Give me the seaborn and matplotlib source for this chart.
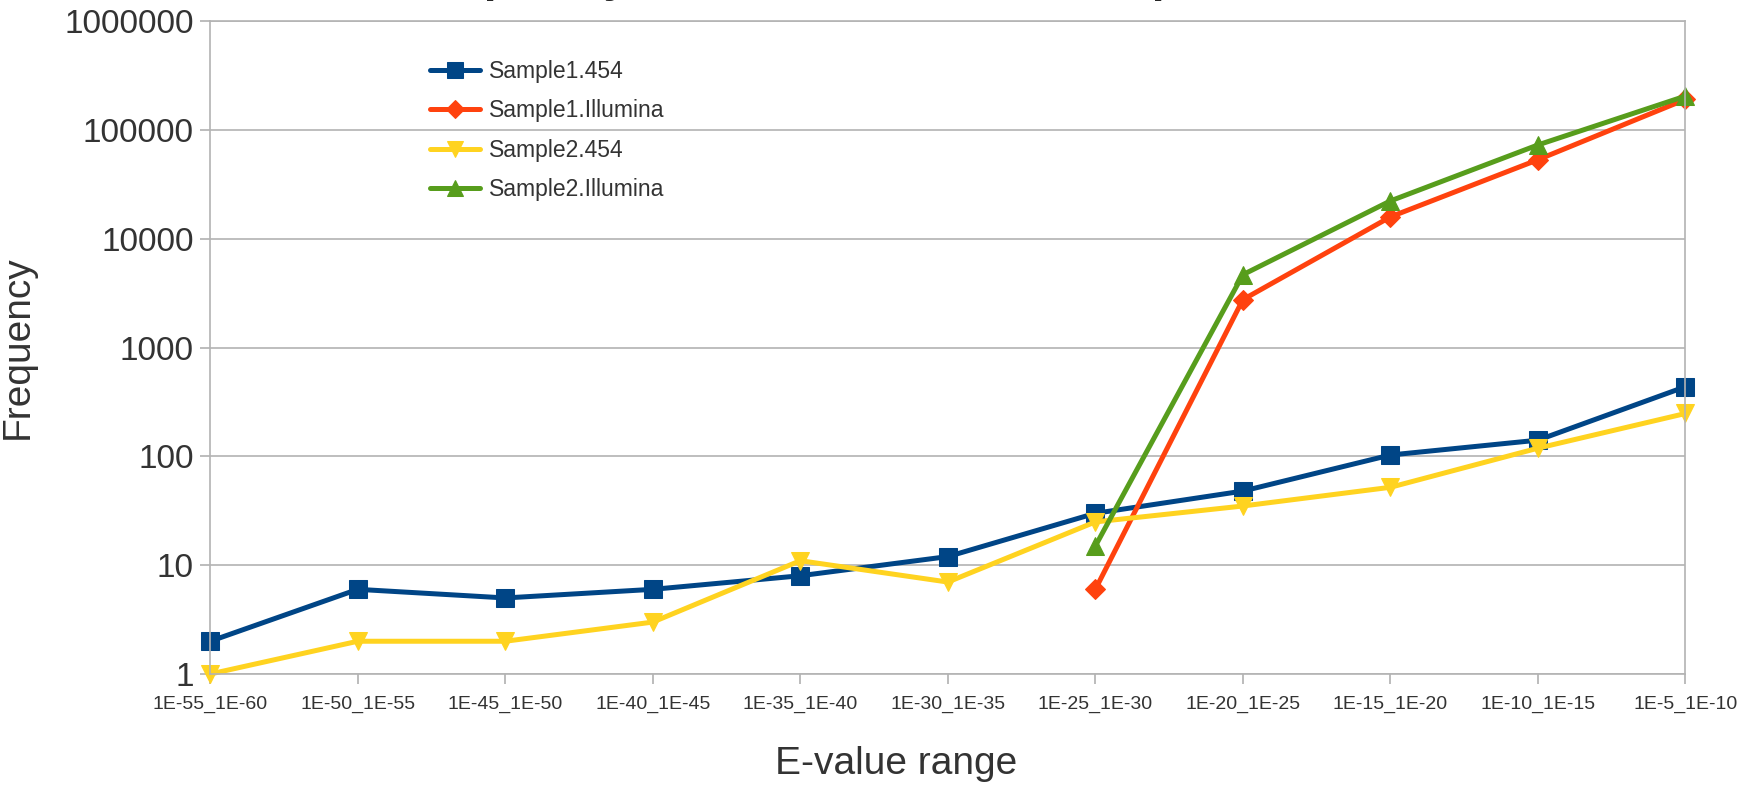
import matplotlib
matplotlib.use("Agg")
import matplotlib.pyplot as plt
import numpy as np
import pandas as pd
import seaborn as sns

categories = ["1E-55_1E-60", "1E-50_1E-55", "1E-45_1E-50", "1E-40_1E-45", "1E-35_1E-40",
              "1E-30_1E-35", "1E-25_1E-30", "1E-20_1E-25", "1E-15_1E-20", "1E-10_1E-15",
              "1E-5_1E-10"]
sample1_454 = [2, 6, 5, 6, 8, 12, 30, 48, 103, 141, 437]
sample1_illumina = [None, None, None, None, None, None, 6, 2760, 15900, 53300, 191000]
sample2_454 = [1, 2, 2, 3, 11, 7, 25, 35, 52, 119, 248]
sample2_illumina = [None, None, None, None, None, None, 15, 4680, 22300, 72900, 205000]

series = {
    "Sample1.454": sample1_454,
    "Sample1.Illumina": sample1_illumina,
    "Sample2.454": sample2_454,
    "Sample2.Illumina": sample2_illumina,
}
colors = {"Sample1.454": "#004586", "Sample1.Illumina": "#ff420e",
          "Sample2.454": "#ffd320", "Sample2.Illumina": "#579d1c"}
markers = {"Sample1.454": "s", "Sample1.Illumina": "D",
           "Sample2.454": "v", "Sample2.Illumina": "^"}
sizes = {"s": 12.5, "D": 10, "v": 13, "^": 13}

rows = []
for name, vals in series.items():
    for cat, v in zip(categories, vals):
        if v is not None:
            rows.append({"range": cat, "value": v, "series": name, "pos": categories.index(cat)})
df = pd.DataFrame(rows)

sns.set_theme(style="white")
plt.rcParams["font.family"] = ["Liberation Sans", "DejaVu Sans"]

fig = plt.figure(figsize=(17.52, 7.86), dpi=100)
ax = fig.add_axes([0.12, 0.1425, 0.842, 0.8305])

for name in series:
    sub = df[df["series"] == name]
    sns.lineplot(data=sub, x="pos", y="value", ax=ax, color=colors[name], linewidth=3.6,
                 marker=markers[name], markersize=sizes[markers[name]],
                 markeredgecolor=colors[name], estimator=None, label=name, clip_on=False)

ax.set_yscale("log")
ax.set_ylim(1, 1e6)
ax.set_xlim(0, len(categories) - 1)
ax.set_yticks([10 ** i for i in range(7)])
ax.set_yticklabels([str(10 ** i) for i in range(7)])
ax.yaxis.set_minor_locator(matplotlib.ticker.NullLocator())
ax.set_xticks(range(len(categories)))
ax.set_xticklabels(categories)
ax.tick_params(axis="y", labelsize=24, labelcolor="#333333", length=7, color="#b3b3b3", pad=5,
               left=True)
ax.tick_params(axis="x", labelsize=14, labelcolor="#333333", length=7, color="#b3b3b3",
               direction="out", pad=9, bottom=True)
ax.yaxis.grid(True, color="#b3b3b3", linewidth=1.2)
ax.xaxis.grid(False)
for sp in ax.spines.values():
    sp.set_color("#b3b3b3")
    sp.set_linewidth(1.2)
ax.set_axisbelow(True)

ax.set_xlabel("E-value range", fontsize=28, color="#333333")
ax.xaxis.set_label_coords(0.465, -0.11)
ax.set_ylabel("Frequency", fontsize=28, color="#333333")
ax.yaxis.set_label_coords(-0.118, 0.5)

ax.legend(loc="upper left", bbox_to_anchor=(0.143, 0.955), frameon=False, fontsize=16.5,
          handlelength=2.15, handletextpad=0.4, labelspacing=0.72, borderaxespad=0,
          markerscale=0.9)
for t in ax.get_legend().get_texts():
    t.set_color("#333333")

# title sits mostly above the canvas, as in the source image
fig.text(0.468, 1 + 9 / 786, "Frequency of E-values across samples", ha="center",
         va="baseline", fontsize=33, fontweight="bold")

fig.savefig("out.png", dpi=100)
